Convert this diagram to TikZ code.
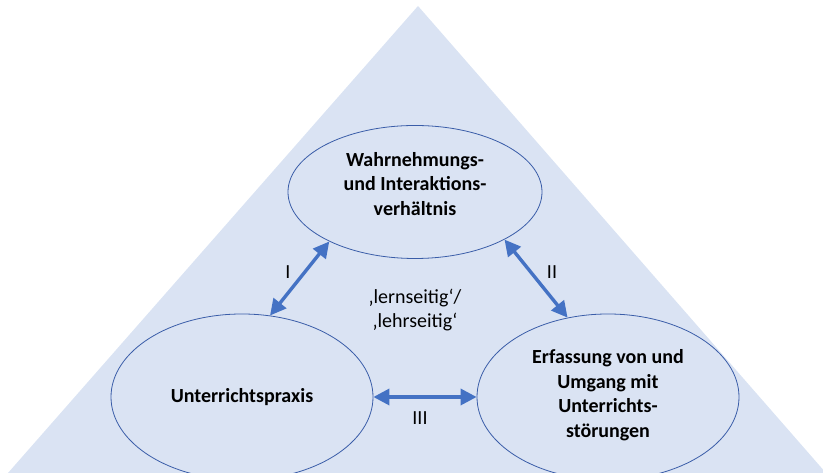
\documentclass[tikz,border=0pt]{standalone}
\usepackage{fontspec}
\setmainfont{Carlito}
\usetikzlibrary{shapes.geometric,arrows.meta}
\definecolor{paleblue}{HTML}{DAE3F3}
\definecolor{arrowblue}{HTML}{4472C4}
\definecolor{rimblue}{HTML}{3A5DA8}
\tikzset{
  area/.style={ellipse, draw=rimblue, line width=0.8pt, fill=paleblue, inner sep=0pt},
  title/.style={font=\fontsize{20}{24.5}\selectfont\bfseries, align=center, inner sep=0pt},
  note/.style={font=\fontsize{20}{24.5}\selectfont, align=center, inner sep=0pt},
  link/.style={arrowblue, line width=3.4pt, {Triangle[length=16pt,width=16pt]}-{Triangle[length=16pt,width=16pt]}}
}
\begin{document}
\begin{tikzpicture}[x=1pt,y=1pt]
\useasboundingbox (0,0) rectangle (823,473);
\begin{scope}
\clip (0,0) rectangle (823,473);
% background triangle
\fill[paleblue] (418,467) -- (826,0) -- (8,0) -- cycle;
% the three fields
\node[area, minimum width=254pt, minimum height=133pt] (wahr) at (415,281) {};
\node[area, minimum width=262pt, minimum height=166pt] (praxis) at (242,76) {};
\node[area, minimum width=262pt, minimum height=166pt] (stoer) at (608,76) {};
\end{scope}
% field titles
\node[title] (wahrtext) at (415,289) {Wahrnehmungs-\\und Interaktions-\\verhältnis};
\node[title] (praxistext) at (242,76) {Unterrichtspraxis};
\node[title] (stoertext) at (608,78) {Erfassung von und\\Umgang mit\\Unterrichts-\\störungen};
% relations between the fields
\draw[link] (wahr.210) -- (praxis.71);
\draw[link] (wahr.332) -- (stoer.117);
\draw[link] (praxis.east) -- (stoer.west);
% labels of the relations
\node[note] (rI) at (288,201) {I};
\node[note] (rII) at (552,201) {II};
\node[note] (rIII) at (420,55) {III};
\node[note] (mitte) at (415,163) {‚lernseitig‘/\\‚lehrseitig‘};
\end{tikzpicture}
\end{document}
